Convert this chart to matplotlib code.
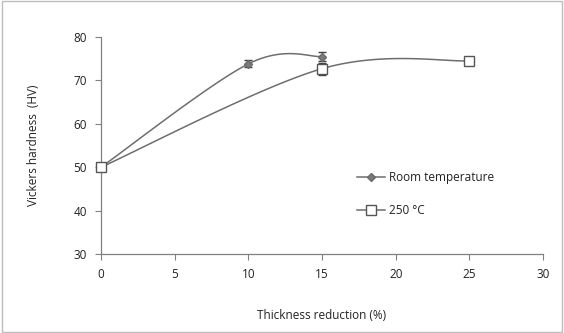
import numpy as np
import matplotlib
matplotlib.use("Agg")
import matplotlib.pyplot as plt
from matplotlib.lines import Line2D
from matplotlib.patches import Rectangle

# data
rt_x = [0, 10, 15]
rt_y = [50, 73.8, 75.5]
rt_err = [0, 0.8, 1.0]
hot_x = [0, 15, 25]
hot_y = [50, 72.7, 74.5]
hot_err = [0, 1.4, 0.9]
series_labels = ["Room temperature", "250 \u00b0C"]
xticks = [0, 5, 10, 15, 20, 25, 30]
yticks = [30, 40, 50, 60, 70, 80]

plt.rcParams['font.family'] = ['Open Sans', 'DejaVu Sans']

def smooth(xs, ys, sx=30.0, sy=50.0, n=40):
    # Excel-like Bezier smoothing (Catmull-Rom, tension 1/6) in normalized space
    P = np.column_stack([np.array(xs) / sx, np.array(ys) / sy])
    m = len(P)
    out = []
    for i in range(m - 1):
        p0 = P[i - 1] if i > 0 else P[i]
        p1 = P[i]
        p2 = P[i + 1]
        p3 = P[i + 2] if i + 2 < m else P[i + 1]
        c1 = p1 + (p2 - p0) / 6
        c2 = p2 - (p3 - p1) / 6
        t = np.linspace(0, 1, n)[:, None]
        b = (1 - t) ** 3 * p1 + 3 * (1 - t) ** 2 * t * c1 + 3 * (1 - t) * t ** 2 * c2 + t ** 3 * p2
        out.append(b if i == 0 else b[1:])
    B = np.vstack(out)
    return B[:, 0] * sx, B[:, 1] * sy

fig = plt.figure(figsize=(5.64, 3.33), dpi=100)
ax = fig.add_axes([0.179, 0.237, 0.784, 0.652])

lc = '#6e6e6e'
sx_, sy_ = smooth(rt_x, rt_y)
ax.plot(sx_, sy_, color=lc, lw=1.1, zorder=2)
sx2, sy2 = smooth(hot_x, hot_y)
ax.plot(sx2, sy2, color=lc, lw=1.1, zorder=2)

e1 = ax.errorbar(rt_x, rt_y, yerr=rt_err, fmt='D', color='#7a7a7a', ms=4, mec='#6a6a6a',
                 ecolor='#404040', elinewidth=1, capsize=3, zorder=4)
e2 = ax.errorbar(hot_x, hot_y, yerr=hot_err, fmt='s', mfc='white', mec='#555555', ms=6.5, mew=1,
                 ecolor='#404040', elinewidth=1, capsize=3, zorder=5)
for e in (e1, e2):
    e[0].set_clip_on(False)

ax.set_xlim(0, 30)
ax.set_ylim(30, 80)
ax.set_xticks(xticks)
ax.set_yticks(yticks)
for s in ['top', 'right']:
    ax.spines[s].set_visible(False)
for s in ['left', 'bottom']:
    ax.spines[s].set_color('#808080')
    ax.spines[s].set_linewidth(0.9)
ax.tick_params(direction='out', length=4, color='#808080', labelsize=8.5, labelcolor='#222222', pad=6)
ax.set_xlabel("Thickness reduction (%)", fontsize=8.5, color='#222222', labelpad=20)
ax.set_ylabel("Vickers hardness  (HV)", fontsize=8.5, color='#222222', labelpad=24)

h1 = Line2D([], [], color=lc, lw=1.1, marker='D', ms=4, mfc='#7a7a7a', mec='#6a6a6a')
h2 = Line2D([], [], color=lc, lw=1.1, marker='s', ms=6.5, mfc='white', mec='#555555')
leg = ax.legend([h1, h2], series_labels, loc='upper left', bbox_to_anchor=(0.555, 0.43),
                frameon=False, fontsize=8.5, handlelength=2.4, labelspacing=1.7, handletextpad=0.3)
for t in leg.get_texts():
    t.set_color('#222222')

fig.patches.append(Rectangle((0.003, 0.004), 0.994, 0.992, transform=fig.transFigure,
                             fill=False, edgecolor='#bdbdbd', lw=1))
fig.savefig("out.png", dpi=100)
